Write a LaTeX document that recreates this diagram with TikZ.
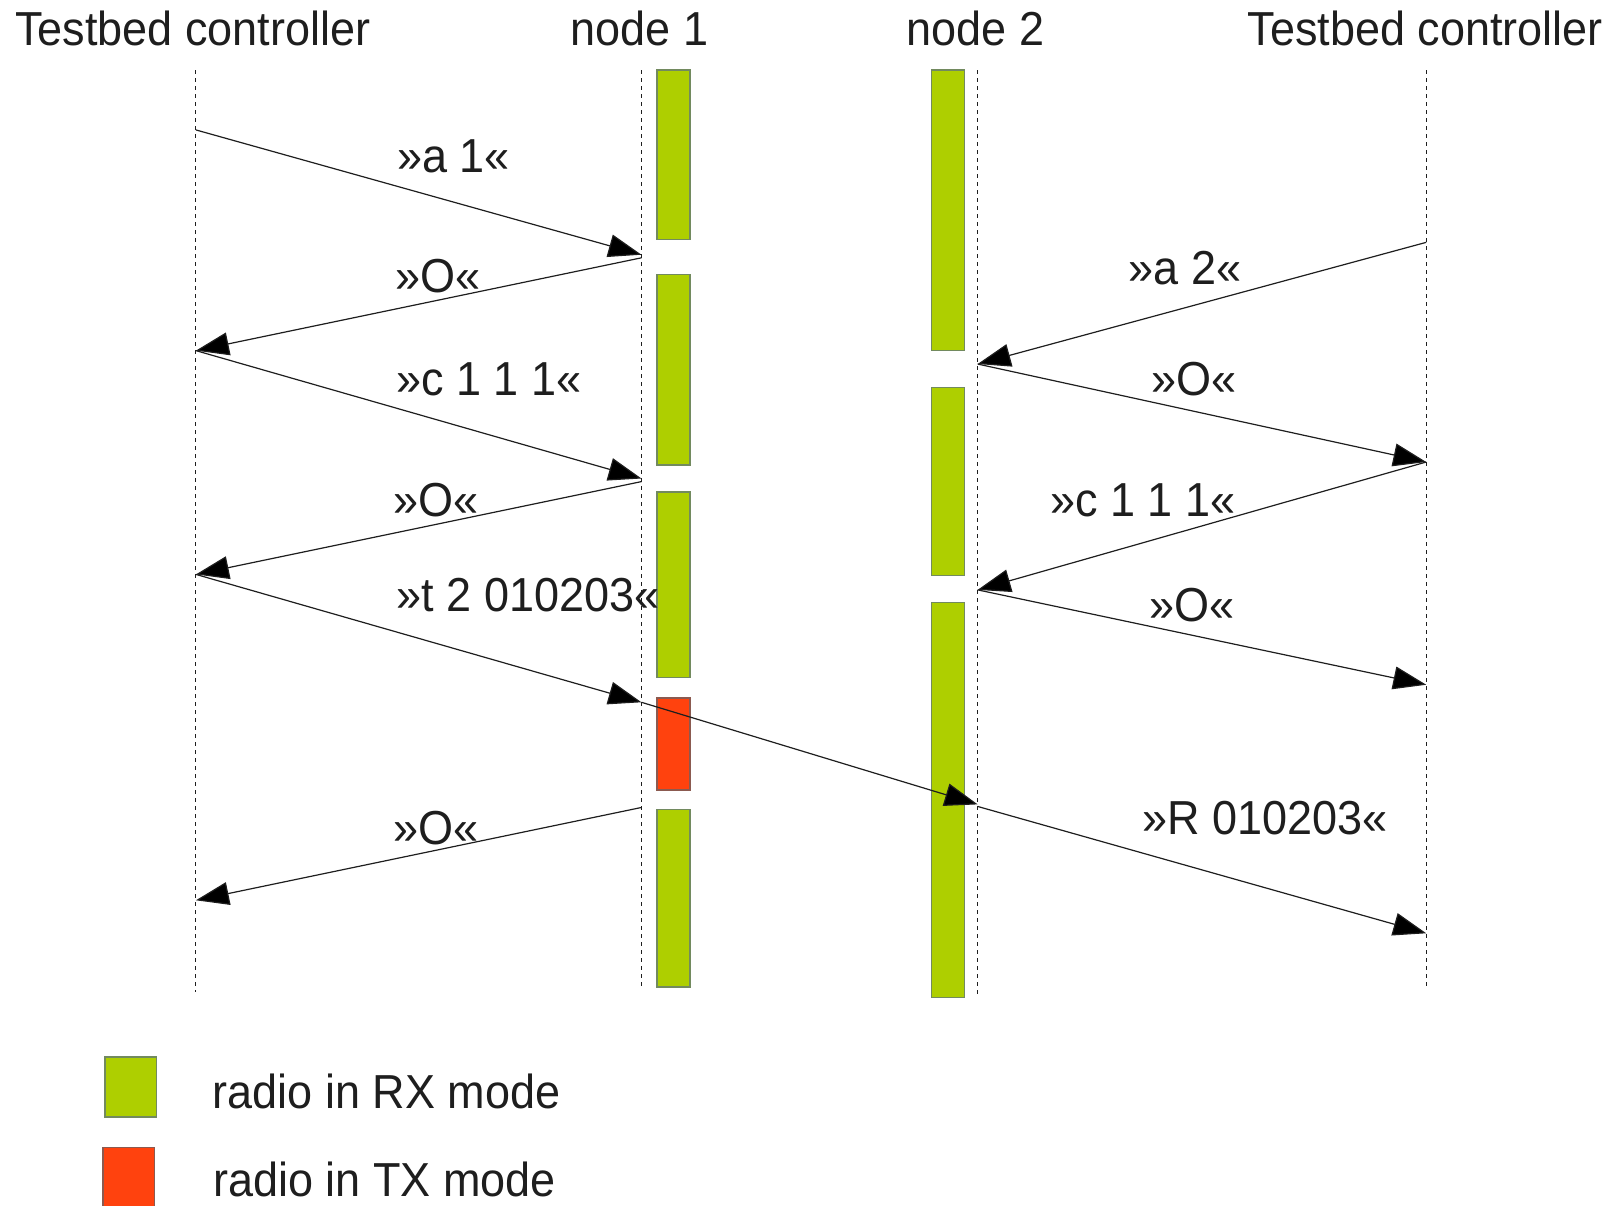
\documentclass[tikz,border=0pt]{standalone}
\usepackage{fontspec}
\setmainfont{Liberation Sans}
\usetikzlibrary{arrows.meta}
\definecolor{rxgreen}{HTML}{AECF00}
\definecolor{txred}{HTML}{FF420E}
\definecolor{barborder}{HTML}{728A5F}
\definecolor{redborder}{HTML}{8B5A50}
\definecolor{ink}{HTML}{1E1E1E}
\begin{document}
\begin{tikzpicture}[x=1.0313pt,y=-1.0313pt,
  txt/.style={font=\fontsize{45}{54}\selectfont, text=ink, inner sep=0pt, anchor=center, yscale=1.06},
  life/.style={draw=ink, line width=0.9pt, dash pattern=on 4pt off 4pt},
  rxbar/.style={fill=rxgreen, draw=barborder, line width=1.4pt},
  txbar/.style={fill=txred, draw=redborder, line width=1.4pt},
  msg/.style={draw=ink, line width=1.2pt, -{Triangle[length=33pt,width=23pt,fill=black]}}]
\useasboundingbox (0,0) rectangle (1568,1169);
\fill[white] (0,0) rectangle (1568,1169);
% titles
\node[txt] (tL) at (187,28) {Testbed controller};
\node[txt] (tN1) at (620,28) {node 1};
\node[txt] (tN2) at (946,28) {node 2};
\node[txt] (tR) at (1382,28) {Testbed controller};
% lifelines
\coordinate (lLt) at (190,68); \coordinate (lLb) at (190,962);
\coordinate (l1t) at (622,68); \coordinate (l1b) at (622,957);
\coordinate (l2t) at (948,68); \coordinate (l2b) at (948,965);
\coordinate (lRt) at (1383,68); \coordinate (lRb) at (1383,957);
\draw[life] (lLt) -- (lLb);
\draw[life] (l1t) -- (l1b);
\draw[life] (l2t) -- (l2b);
\draw[life] (lRt) -- (lRb);
% radio state bars, node 1
\draw[rxbar] (637,68) rectangle (669,232);
\draw[rxbar] (637,266) rectangle (669,451);
\draw[rxbar] (637,477) rectangle (669,657);
\draw[txbar] (637,677) rectangle (669,766);
\draw[rxbar] (637,785) rectangle (669,957);
% radio state bars, node 2
\draw[rxbar] (903,68) rectangle (935,340);
\draw[rxbar] (903,376) rectangle (935,558);
\draw[rxbar] (903,584) rectangle (935,967);
% message end points
\coordinate (a1s) at (190,126);  \coordinate (a1e) at (622,247);
\coordinate (o1s) at (622,250);  \coordinate (o1e) at (190,340);
\coordinate (c1s) at (190,340);  \coordinate (c1e) at (622,464);
\coordinate (o2s) at (622,467);  \coordinate (o2e) at (190,557);
\coordinate (t1s) at (190,557);  \coordinate (t1e) at (622,681);
\coordinate (rfs) at (622,681);  \coordinate (rfe) at (948,780);
\coordinate (o3s) at (622,783);  \coordinate (o3e) at (190,873);
\coordinate (a2s) at (1383,235); \coordinate (a2e) at (948,353);
\coordinate (o4s) at (948,353);  \coordinate (o4e) at (1383,448);
\coordinate (c2s) at (1383,448); \coordinate (c2e) at (948,572);
\coordinate (o5s) at (948,572);  \coordinate (o5e) at (1383,664);
\coordinate (r1s) at (948,782);  \coordinate (r1e) at (1383,905);
% messages
\draw[msg] (a1s) -- (a1e);
\draw[msg] (o1s) -- (o1e);
\draw[msg] (c1s) -- (c1e);
\draw[msg] (o2s) -- (o2e);
\draw[msg] (t1s) -- (t1e);
\draw[msg] (rfs) -- (rfe);
\draw[msg] (o3s) -- (o3e);
\draw[msg] (a2s) -- (a2e);
\draw[msg] (o4s) -- (o4e);
\draw[msg] (c2s) -- (c2e);
\draw[msg] (o5s) -- (o5e);
\draw[msg] (r1s) -- (r1e);
% message labels
\node[txt] (la1) at (440,152) {»a 1«};
\node[txt] (lo1) at (425,268) {»O«};
\node[txt] (lc1) at (474,368) {»c 1 1 1«};
\node[txt] (lo2) at (423,485) {»O«};
\node[txt] (lt1) at (512,577) {»t 2 010203«};
\node[txt] (lo3) at (423,803) {»O«};
\node[txt] (la2) at (1149,260) {»a 2«};
\node[txt] (lo4) at (1158,368) {»O«};
\node[txt] (lc2) at (1108,485) {»c 1 1 1«};
\node[txt] (lo5) at (1156,587) {»O«};
\node[txt] (lr1) at (1227,793) {»R 010203«};
% legend
\draw[rxbar] (102,1025) rectangle (152,1083);
\draw[txbar] (100,1113) rectangle (150,1175);
\node[txt] (leg1) at (375,1058) {radio in RX mode};
\node[txt] (leg2) at (373,1144) {radio in TX mode};
\end{tikzpicture}
\end{document}
